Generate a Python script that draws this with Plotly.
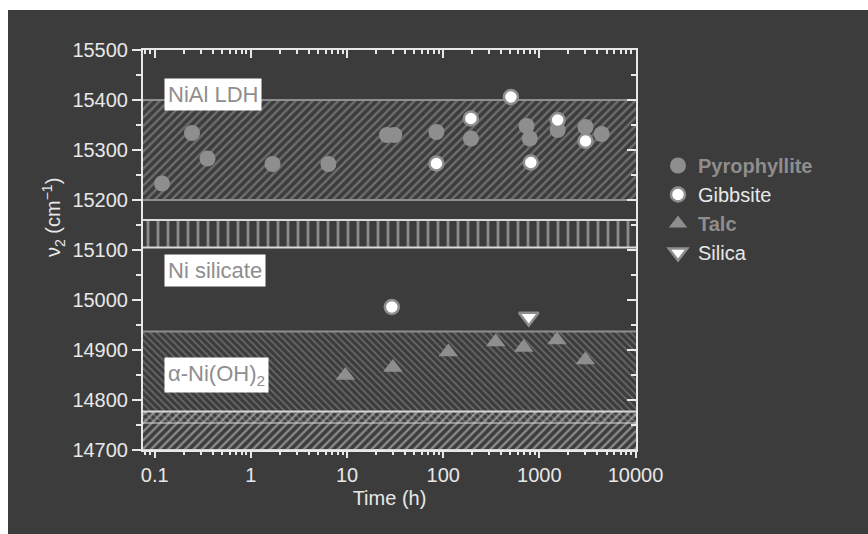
import plotly.graph_objects as go

DARK = "#3c3c3c"
LIGHT = "#e8e8e8"
GRAY = "#8e8e8e"
FONT = "Liberation Sans, Arial, Helvetica, sans-serif"

# ---- measured d-d band position (nu2) versus reaction time ----
time_pyrophyllite = [0.119, 0.244, 0.354, 1.68, 6.4, 26, 31, 85, 194, 736, 795, 1550, 3020, 4440]
nu_pyrophyllite = [15233, 15334, 15283, 15272, 15272, 15330, 15330, 15336, 15323, 15348, 15323, 15340, 15346, 15332]

time_gibbsite = [29.2, 85, 194, 506, 815, 1550, 3020]
nu_gibbsite = [14986, 15273, 15363, 15406, 15275, 15360, 15318]

time_talc = [9.6, 30, 113, 351, 687, 1524, 3005]
nu_talc = [14849, 14865, 14896, 14916, 14905, 14920, 14880]

time_silica = [776]
nu_silica = [14966]

# ---- reference ranges of Ni phases ----
band_labels = ["NiAl LDH", "Ni silicate", "α-Ni(OH)<sub>2</sub>", ""]
band_low = [15200, 15105, 14754, 14700]
band_high = [15400, 15160, 14937, 14777]
band_label_y = [15411, 15059, 14850, None]
band_pattern = ["/", "|", "\\", "/"]
band_color = ["#a0a0a0", "#dadada", "#9a9a9a", "#d6d6d6"]
band_edge = [GRAY, "#dadada", GRAY, "#d6d6d6"]
band_spacing = [6.0, 10, 5.0, 6.0]
band_solidity = [0.4, 0.28, 0.32, 0.4]

x_ticks = [0.1, 1, 10, 100, 1000, 10000]
x_ticktext = ["0.1", "1", "10", "100", "1000", "10000"]
y_ticks = [14700, 14800, 14900, 15000, 15100, 15200, 15300, 15400, 15500]
y_ticktext = [str(v) for v in y_ticks]

X_RANGE = [-1.122, 4.005]
Y_RANGE = [14700, 15500]
x_minor = [m * 10.0 ** e for e in range(-2, 4) for m in range(2, 10)]
x_span = [1e-3, 1e6]

fig = go.Figure()

for lo, hi, pat, col, edge, sp, sol in zip(band_low, band_high, band_pattern, band_color,
                                           band_edge, band_spacing, band_solidity):
    fig.add_trace(go.Scatter(
        x=[x_span[0], x_span[1], x_span[1], x_span[0], x_span[0]],
        y=[lo, lo, hi, hi, lo],
        mode="lines", fill="toself",
        fillcolor="rgba(0,0,0,0)",
        fillpattern=dict(shape=pat, fgcolor=col, bgcolor="rgba(0,0,0,0)",
                         size=sp, solidity=sol),
        line=dict(color=edge, width=1.8),
        showlegend=False, hoverinfo="skip",
    ))

fig.add_trace(go.Scatter(
    x=time_pyrophyllite, y=nu_pyrophyllite, mode="markers",
    name="<b><span style='color:#8e8e8e'>Pyrophyllite</span></b>",
    marker=dict(symbol="circle", size=16, color=GRAY, line=dict(width=0)),
))
fig.add_trace(go.Scatter(
    x=time_gibbsite, y=nu_gibbsite, mode="markers", name="Gibbsite",
    marker=dict(symbol="circle", size=14, color="white", line=dict(color=GRAY, width=2.5)),
))
fig.add_trace(go.Scatter(
    x=time_talc, y=nu_talc, mode="markers",
    name="<b><span style='color:#8e8e8e'>Talc</span></b>",
    marker=dict(symbol="triangle-up", size=17, color=GRAY, line=dict(width=0)),
))
fig.add_trace(go.Scatter(
    x=time_silica, y=nu_silica, mode="markers", name="Silica",
    marker=dict(symbol="triangle-down", size=17, color="white", line=dict(color=GRAY, width=2.5)),
))

# empty traces so the mirrored top / right axes get drawn
fig.add_trace(go.Scatter(x=[], y=[], xaxis="x2", yaxis="y", showlegend=False, hoverinfo="skip"))
fig.add_trace(go.Scatter(x=[], y=[], xaxis="x", yaxis="y2", showlegend=False, hoverinfo="skip"))

axis_common = dict(showgrid=False, zeroline=False, showline=True, linecolor=LIGHT,
                   linewidth=2, tickcolor=LIGHT, tickwidth=1.5)

annotations = []
for label, ly in zip(band_labels, band_label_y):
    if not label:
        continue
    annotations.append(dict(
        text=label, xref="paper", yref="y", x=(164 - 143) / 493, y=ly,
        xanchor="left", yanchor="middle", showarrow=False,
        bgcolor="white", borderpad=3,
        font=dict(family=FONT, size=22, color=GRAY),
    ))
annotations.append(dict(
    text="ν<sub>2</sub> (cm<sup>−1</sup>)", textangle=-90,
    xref="paper", yref="paper", x=(53 - 143) / 493, y=(450 - 218) / 400,
    xanchor="center", yanchor="middle", showarrow=False,
    font=dict(family=FONT, size=20, color=LIGHT),
))

fig.update_layout(
    width=868, height=534,
    margin=dict(l=143, r=232, t=50, b=84),
    paper_bgcolor="white", plot_bgcolor="rgba(0,0,0,0)",
    font=dict(family=FONT, color=LIGHT),
    shapes=[dict(type="rect", xref="paper", yref="paper",
                 x0=(8 - 143) / 493, x1=1.6, y0=-0.4, y1=(450 - 10) / 400,
                 fillcolor=DARK, line=dict(width=0), layer="below")],
    xaxis=dict(type="log", range=X_RANGE, tickmode="array", tickvals=x_ticks,
               ticktext=x_ticktext, ticks="outside", ticklen=6,
               minor=dict(tickvals=x_minor, ticks="outside", ticklen=3,
                          tickcolor=LIGHT, tickwidth=1.5),
               tickfont=dict(family=FONT, size=20, color=LIGHT),
               title=dict(text="Time (h)", font=dict(family=FONT, size=20, color=LIGHT), standoff=6),
               **axis_common),
    xaxis2=dict(type="log", range=X_RANGE, overlaying="x", side="top", anchor="y",
                tickmode="array", tickvals=x_ticks, ticks="inside", ticklen=8,
                showticklabels=False,
                minor=dict(tickvals=x_minor, ticks="inside", ticklen=4,
                           tickcolor=LIGHT, tickwidth=1.5),
                **axis_common),
    yaxis=dict(range=Y_RANGE, tickmode="array", tickvals=y_ticks, ticktext=y_ticktext,
               ticks="outside", ticklen=9,
               minor=dict(dtick=50, ticks="outside", ticklen=5,
                          tickcolor=LIGHT, tickwidth=1.5),
               tickfont=dict(family=FONT, size=20, color=LIGHT),
               **axis_common),
    yaxis2=dict(range=Y_RANGE, overlaying="y", side="right", anchor="x",
                tickmode="array", tickvals=y_ticks, ticks="inside", ticklen=9,
                showticklabels=False,
                minor=dict(dtick=50, ticks="inside", ticklen=5,
                           tickcolor=LIGHT, tickwidth=1.5),
                **axis_common),
    legend=dict(x=(658 - 143) / 493, xanchor="left", y=0.76, yanchor="top",
                bgcolor="rgba(0,0,0,0)", font=dict(family=FONT, size=20, color=LIGHT),
                tracegroupgap=0, itemsizing="trace"),
    annotations=annotations,
    showlegend=True,
)

fig.write_html("out.html")
